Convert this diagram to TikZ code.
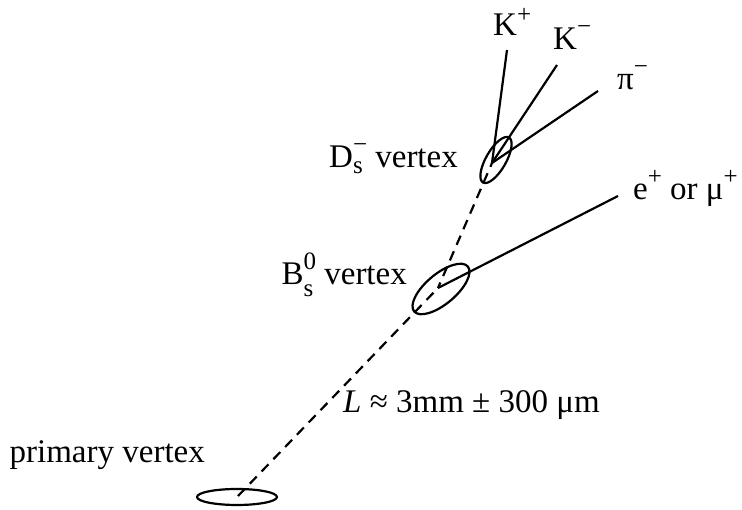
\documentclass[tikz,border=0pt]{standalone}
\usepackage{fontspec}
\setmainfont{Liberation Serif}
\usetikzlibrary{shapes.geometric}
\newcommand\upsc[1]{\raisebox{15pt}{\fontsize{25}{25}\selectfont #1}}
\newcommand\dnsc[2]{\raisebox{-#1}{\fontsize{25}{25}\selectfont #2}}
\begin{document}
\begin{tikzpicture}[x=1pt,y=1pt,
  track/.style={line width=2.2pt},
  flight/.style={line width=2.2pt, dash pattern=on 10pt off 7pt},
  vtx/.style={draw, ellipse, line width=2.2pt, inner sep=0pt},
  lbl/.style={font=\fontsize{33}{38}\selectfont, inner sep=0pt}]
\useasboundingbox (0,0) rectangle (742,510);
% vertices
\node[vtx, minimum width=80pt, minimum height=16pt] (pv) at (237,13) {};
\node[vtx, minimum width=70pt, minimum height=30pt, rotate=40] (bv) at (441,221) {};
\node[vtx, minimum width=52pt, minimum height=20pt, rotate=60] (dv) at (496,350) {};
% decay points
\coordinate (pp) at (238,14);
\coordinate (bp) at (438,222);
\coordinate (dp) at (492,347);
% track ends
\coordinate (kp) at (507,460);
\coordinate (km) at (557,445);
\coordinate (pim) at (598,419);
\coordinate (lep) at (618,314);
% flight paths
\draw[flight] (pp) -- (bp);
\draw[flight, dash phase=4pt] (bp) -- (dp);
% tracks
\draw[track] (dp) -- (kp);
\draw[track] (dp) -- (km);
\draw[track] (dp) -- (pim);
\draw[track] (bp) -- (lep);
% labels
\node[lbl, anchor=base west] (lkp) at (493,474) {K\raisebox{13pt}{\fontsize{25}{25}\selectfont +}};
\node[lbl, anchor=base west] (lkm) at (553,460) {K\upsc{−}};
\node[lbl, anchor=base west] (lpi) at (617,420) {π\upsc{−}};
\node[lbl, anchor=base east] (ldv) at (458,342) {D\rlap{\dnsc{6pt}{s}}\upsc{−} vertex};
\node[lbl, anchor=base west] (llep) at (633,310) {e\upsc{+} or μ\upsc{+}};
\node[lbl, anchor=base east] (lbv) at (407,225) {B\rlap{\dnsc{12pt}{s}}\upsc{0} vertex};
\node[lbl, anchor=base west] (lL) at (343,97) {\textit{L} ≈ 3mm ± 300 μm};
\node[lbl, anchor=base east] (lpv) at (205,47) {primary vertex};
\end{tikzpicture}
\end{document}
